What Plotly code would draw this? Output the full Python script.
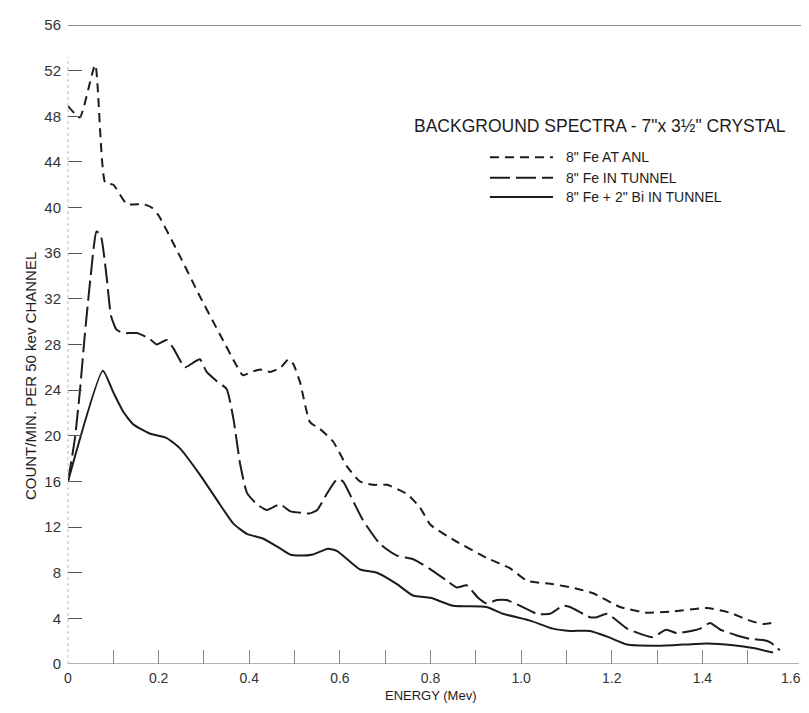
import plotly.graph_objects as go

# ---- data ----
anl_x = [0, 0.026, 0.06, 0.082, 0.1, 0.13, 0.166, 0.185, 0.2, 0.25, 0.29, 0.335, 0.37, 0.386,
         0.405, 0.424, 0.446, 0.47, 0.486, 0.497, 0.512, 0.534, 0.556, 0.585, 0.616, 0.644,
         0.673, 0.704, 0.748, 0.777, 0.8, 0.85, 0.924, 0.975, 1.013, 1.07, 1.123, 1.159,
         1.218, 1.278, 1.335, 1.41, 1.46, 1.505, 1.534, 1.565]
anl_y = [48.9, 47.9, 52.5, 42.2, 42.0, 40.3, 40.3, 40.0, 39.3, 35.5, 32.3, 28.9, 26.3, 25.3,
         25.6, 25.8, 25.6, 26.0, 26.7, 26.3, 24.7, 21.2, 20.6, 19.5, 17.3, 16.0,
         15.7, 15.7, 14.9, 13.7, 12.2, 10.9, 9.3, 8.4, 7.3, 7.0, 6.6, 6.2,
         5.0, 4.5, 4.6, 4.9, 4.5, 3.8, 3.5, 3.7]

tun_x = [0, 0.015, 0.026, 0.037, 0.05, 0.063, 0.072, 0.085, 0.095, 0.107, 0.122, 0.152, 0.18,
         0.196, 0.218, 0.232, 0.258, 0.276, 0.291, 0.306, 0.328, 0.35, 0.365, 0.38, 0.395,
         0.417, 0.439, 0.468, 0.49, 0.534, 0.55, 0.571, 0.594, 0.607, 0.629, 0.651, 0.689,
         0.726, 0.761, 0.8, 0.836, 0.858, 0.88, 0.905, 0.924, 0.946, 0.968, 0.998, 1.035,
         1.064, 1.092, 1.108, 1.152, 1.167, 1.19, 1.234, 1.29, 1.32, 1.344, 1.395, 1.417,
         1.44, 1.476, 1.505, 1.534, 1.55, 1.571]
tun_y = [16, 19.7, 23.8, 28.8, 34.0, 37.9, 37.6, 34.0, 30.5, 29.3, 29.0, 29.0, 28.5,
         28.0, 28.4, 27.7, 26.0, 26.4, 26.7, 25.6, 24.8, 24.1, 21.5, 17.5, 15.0,
         14.0, 13.5, 14.0, 13.4, 13.2, 13.5, 14.9, 16.2, 16.0, 14.3, 12.6, 10.5,
         9.5, 9.2, 8.3, 7.3, 6.7, 6.9, 5.8, 5.3, 5.6, 5.6, 5.1, 4.4,
         4.4, 5.1, 5.0, 4.1, 4.1, 4.4, 3.1, 2.35, 3.0, 2.7, 3.1, 3.6,
         3.0, 2.5, 2.2, 2.1, 1.9, 1.2]

bi_x = [0, 0.077, 0.1, 0.122, 0.144, 0.18, 0.218, 0.247, 0.291, 0.335, 0.365, 0.395, 0.43,
        0.461, 0.49, 0.512, 0.541, 0.574, 0.594, 0.644, 0.682, 0.726, 0.761, 0.8, 0.85,
        0.924, 0.96, 1.02, 1.07, 1.108, 1.152, 1.19, 1.234, 1.29, 1.335, 1.41, 1.468,
        1.512, 1.556]
bi_y = [16, 25.7, 23.8, 22.1, 21.0, 20.2, 19.8, 18.9, 16.6, 14.0, 12.3, 11.4, 11.0,
        10.3, 9.6, 9.5, 9.6, 10.1, 9.9, 8.3, 8.0, 7.0, 6.0, 5.8, 5.1,
        5.0, 4.4, 3.8, 3.1, 2.9, 2.9, 2.4, 1.7, 1.6, 1.65, 1.8, 1.65,
        1.4, 1.0]

series_names = ['8" Fe AT ANL', '8" Fe IN TUNNEL', '8" Fe + 2" Bi IN TUNNEL']
series_dash = ["9px,6px", "20px,6px", "solid"]

x_tickvals = [round(i * 0.1, 1) for i in range(17)]
x_ticktext = ["0" if v == 0 else (f"{v:.1f}" if i % 2 == 0 else "") for i, v in enumerate(x_tickvals)]
# the last label sits at the very edge of the figure; it is drawn as an annotation instead
last_tick_label = x_ticktext[-1]
x_ticktext[-1] = ""
y_tickvals = list(range(0, 57, 4))

INK = "#1c1c1c"
FONT = "Liberation Sans"

fig = go.Figure()
for xs, ys, name, dash in zip([anl_x, tun_x, bi_x], [anl_y, tun_y, bi_y], series_names, series_dash):
    fig.add_trace(go.Scatter(x=xs, y=ys, mode="lines", name=name, showlegend=False,
                             line=dict(color=INK, width=2, dash=dash, shape="spline", smoothing=0.5)))

# hand-drawn legend like the original
fig.add_annotation(xref="paper", yref="paper", x=0.474, y=0.842, xanchor="left", yanchor="middle",
                   text='BACKGROUND SPECTRA - 7"x 3½" CRYSTAL', showarrow=False,
                   font=dict(family=FONT, size=17.5, color=INK))
leg_y = [0.793, 0.761, 0.731]
for yy, name, dash in zip(leg_y, series_names, series_dash):
    fig.add_shape(type="line", xref="paper", yref="paper", x0=0.582, x1=0.669, y0=yy, y1=yy,
                  line=dict(color=INK, width=2, dash=dash))
    fig.add_annotation(xref="paper", yref="paper", x=0.684, y=yy, xanchor="left", yanchor="middle",
                       text=name, showarrow=False, font=dict(family=FONT, size=14, color=INK))

# frame lines
fig.add_shape(type="line", xref="paper", yref="y", x0=0, x1=1.011, y0=56, y1=56,
              line=dict(color="#666", width=1.5))
fig.add_shape(type="line", xref="paper", yref="y", x0=0, x1=1.008, y0=0, y1=0,
              line=dict(color="#999", width=1.5))
fig.add_shape(type="line", xref="paper", yref="paper", x0=0, x1=0, y0=0, y1=0.95,
              line=dict(color="#bbb", width=1, dash="dot"))

# last x tick label
fig.add_annotation(xref="x", yref="paper", x=x_tickvals[-1], y=-0.0225, yanchor="middle",
                   xshift=-2, text=last_tick_label, showarrow=False,
                   font=dict(family=FONT, size=14, color="#333"))

# axis titles
fig.add_annotation(xref="paper", yref="paper", x=-0.066, y=0.45, textangle=-90,
                   text="COUNT/MIN. PER 50 kev CHANNEL", showarrow=False,
                   font=dict(family=FONT, size=15, color=INK))
fig.add_annotation(xref="paper", yref="paper", x=0.5, y=-0.049, yanchor="middle",
                   text="ENERGY (Mev)", showarrow=False,
                   font=dict(family=FONT, size=13, color=INK))

fig.update_xaxes(range=[0, 1.6], tickvals=x_tickvals, ticktext=x_ticktext,
                 ticks="inside", ticklen=14, tickcolor="#888", tickwidth=1,
                 ticklabelstandoff=4,
                 showgrid=False, zeroline=False, showline=False,
                 tickfont=dict(family=FONT, size=14, color="#333"))
fig.update_yaxes(range=[0, 56], tickvals=y_tickvals,
                 ticks="inside", ticklen=14, tickcolor="#555", tickwidth=1.2,
                 ticklabelstandoff=6,
                 showgrid=False, zeroline=False, showline=False,
                 tickfont=dict(family=FONT, size=15, color="#333"))

# page body has an 8px margin: size the figure so it fits the 809x713 window
fig.update_layout(width=793, height=697, margin=dict(l=60, r=8, t=12, b=41),
                  plot_bgcolor="white", paper_bgcolor="white",
                  font=dict(family=FONT, color=INK))

fig.write_html("out.html", config={"displayModeBar": False})
